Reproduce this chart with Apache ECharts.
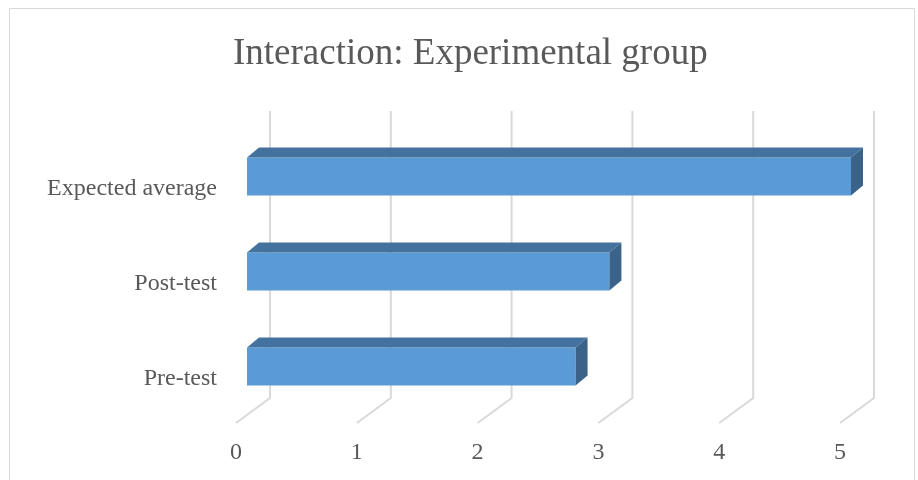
<!DOCTYPE html>
<html>
<head>
<meta charset="utf-8">
<script src="https://cdn.jsdelivr.net/npm/echarts@6/dist/echarts.min.js"></script>
<style>
html,body{margin:0;padding:0;background:#fff;}
#chart{width:918px;height:480px;}
</style>
</head>
<body>
<div id="chart"></div>
<script>
// Data
const categories = ['Pre-test', 'Post-test', 'Expected average'];
const values = [2.72, 3.0, 5.0];
const tickValues = [0, 1, 2, 3, 4, 5];
const titleText = 'Interaction: Experimental group';

const FONT = "'Liberation Serif', 'Times New Roman', serif";
const TEXT_COLOR = '#595959';
const FRONT = '#5b9bd5';
const TOP = '#44729e';
const SIDE = '#3b6389';
const GRID_COLOR = '#d9d9d9';

const chart = echarts.init(document.getElementById('chart'));

const barData = values.map((v, i) => [v, i]);
const gridData = tickValues.map(t => [t, 0]);

chart.setOption({
  backgroundColor: '#ffffff',
  animation: false,
  title: {
    text: titleText,
    left: 233,
    top: 36,
    padding: 0,
    textStyle: { fontFamily: FONT, fontSize: 37, fontWeight: 'normal', color: TEXT_COLOR }
  },
  graphic: [{
    type: 'rect',
    shape: { x: 9.5, y: 8.5, width: 905, height: 490 },
    style: { fill: 'none', stroke: '#d9d9d9', lineWidth: 1 },
    silent: true,
    z: -10
  }],
  grid: { left: 236, width: 604, top: 141, height: 285 },
  xAxis: {
    type: 'value', min: 0, max: 5, interval: 1,
    splitLine: { show: false }, axisLine: { show: false }, axisTick: { show: false },
    axisLabel: { fontFamily: FONT, fontSize: 24, color: TEXT_COLOR, margin: 15 }
  },
  yAxis: {
    type: 'category', data: categories,
    axisLine: { show: false }, axisTick: { show: false }, splitLine: { show: false },
    axisLabel: { fontFamily: FONT, fontSize: 24, color: TEXT_COLOR, margin: 19 }
  },
  series: [
    {
      type: 'custom',
      name: 'grid3d',
      silent: true,
      z: 1,
      data: gridData,
      encode: { x: 0, y: 1 },
      renderItem: function (params, api) {
        const cs = params.coordSys;
        const p = api.coord([api.value(0), 0]);
        const x = p[0];
        const bottom = cs.y + cs.height;
        return {
          type: 'polyline',
          shape: { points: [[x + 34, cs.y - 30], [x + 34, bottom - 28], [x, bottom - 3]] },
          style: { stroke: GRID_COLOR, lineWidth: 2, fill: 'none' }
        };
      }
    },
    {
      type: 'custom',
      name: 'bars',
      z: 2,
      data: barData,
      encode: { x: 0, y: 1 },
      renderItem: function (params, api) {
        const v = api.value(0);
        const ci = api.value(1);
        const p0 = api.coord([0, ci]);
        const p1 = api.coord([v, ci]);
        const h = api.size([0, 1])[1] * 0.4;
        const x0 = p0[0] + 11, x1 = p1[0] + 11;
        const yc = p0[1] - 12;
        const yt = yc - h / 2, yb = yc + h / 2;
        const dx = 12, dy = 10;
        return {
          type: 'group',
          children: [
            { type: 'polygon', shape: { points: [[x0, yt], [x1, yt], [x1, yb], [x0, yb]] }, style: { fill: FRONT } },
            { type: 'polygon', shape: { points: [[x0, yt], [x0 + dx, yt - dy], [x1 + dx, yt - dy], [x1, yt]] }, style: { fill: TOP } },
            { type: 'polygon', shape: { points: [[x1, yt], [x1 + dx, yt - dy], [x1 + dx, yb - dy], [x1, yb]] }, style: { fill: SIDE } }
          ]
        };
      }
    }
  ]
});
</script>
</body>
</html>
